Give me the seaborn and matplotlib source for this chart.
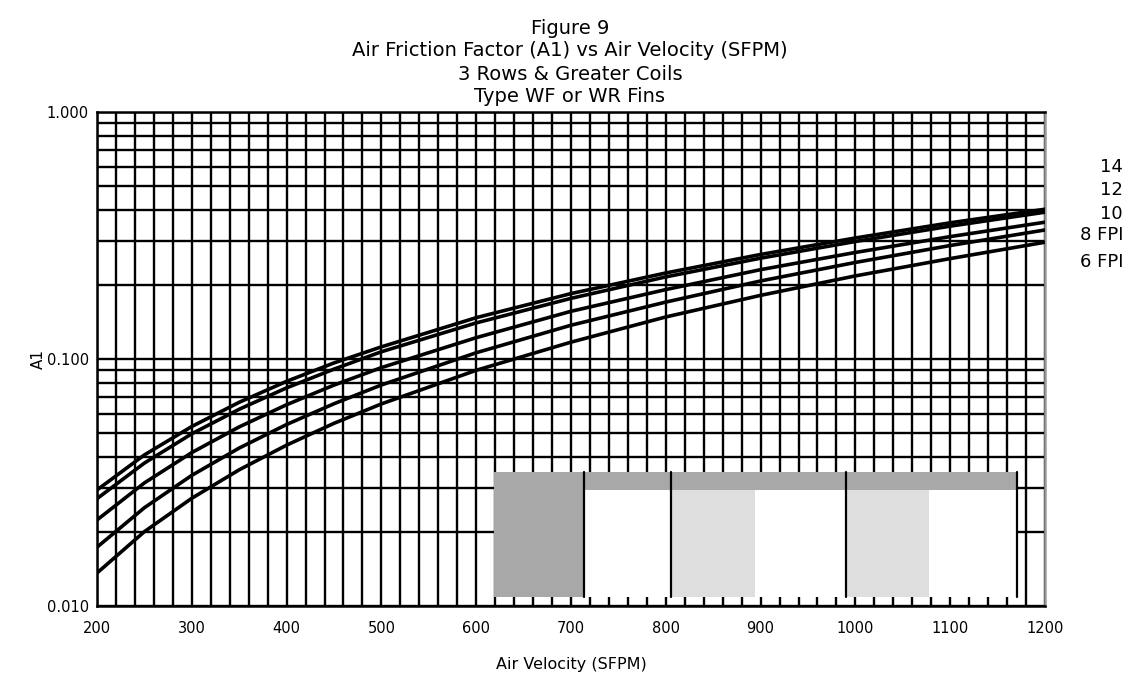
import numpy as np
import pandas as pd
import matplotlib
matplotlib.use("Agg")
import matplotlib.pyplot as plt
from matplotlib.patches import Rectangle
from matplotlib.ticker import FixedLocator, MultipleLocator, LogLocator, NullFormatter, FixedFormatter
import seaborn as sns

# ---------------- data ----------------
velocity = [200, 250, 300, 350, 400, 450, 500, 600, 700, 800, 900, 1000, 1100, 1200]
a1_14fpi = [0.0295, 0.0409, 0.0533, 0.0668, 0.0812, 0.0964, 0.112, 0.147, 0.184, 0.223, 0.265, 0.309, 0.356, 0.404]
a1_12fpi = [0.0272, 0.0379, 0.0498, 0.0626, 0.0764, 0.0910, 0.107, 0.140, 0.176, 0.215, 0.256, 0.299, 0.345, 0.393]
a1_10fpi = [0.0223, 0.0315, 0.0418, 0.0531, 0.0653, 0.0784, 0.0923, 0.122, 0.156, 0.191, 0.230, 0.270, 0.313, 0.358]
a1_8fpi = [0.0173, 0.0250, 0.0338, 0.0436, 0.0543, 0.0659, 0.0785, 0.106, 0.137, 0.170, 0.207, 0.246, 0.288, 0.333]
a1_6fpi = [0.0136, 0.0200, 0.0273, 0.0356, 0.0448, 0.0549, 0.0658, 0.0900, 0.117, 0.148, 0.181, 0.217, 0.255, 0.297]
series_labels = ["14", "12", "10", "8 FPI", "6 FPI"]

title_lines = ["Figure 9",
               "Air Friction Factor (A1) vs Air Velocity (SFPM)",
               "3 Rows & Greater Coils",
               "Type WF or WR Fins"]
x_label = "Air Velocity (SFPM)"
y_label = "A1"
x_ticks = [200, 300, 400, 500, 600, 700, 800, 900, 1000, 1100, 1200]
y_ticks = [0.01, 0.1, 1.0]
y_tick_labels = ["0.010", "0.100", "1.000"]

# ---------------- build long-form table ----------------
series_values = [a1_14fpi, a1_12fpi, a1_10fpi, a1_8fpi, a1_6fpi]
frames = []
for lab, vals in zip(series_labels, series_values):
    frames.append(pd.DataFrame({"velocity": velocity, "A1": vals, "fpi": lab}))
df = pd.concat(frames, ignore_index=True)

# ---------------- figure ----------------
sns.set_style("white")
plt.rcParams["font.family"] = ["DejaVu Sans"]
plt.rcParams["text.color"] = "black"
plt.rcParams["xtick.color"] = "black"
plt.rcParams["ytick.color"] = "black"

W, H = 1129, 681
fig = plt.figure(figsize=(W / 100, H / 100), dpi=100)
ax = fig.add_axes([97 / W, 1 - 606 / H, 948 / W, 494 / H])

sns.lineplot(data=df, x="velocity", y="A1", hue="fpi", hue_order=series_labels,
             palette=["black"] * len(series_labels), linewidth=2.6, legend=False,
             ax=ax, zorder=3)

ax.set_yscale("log")
ax.set_xlim(200, 1200)
ax.set_ylim(0.01, 1.0)

# grid
ax.xaxis.set_major_locator(FixedLocator(x_ticks))
ax.xaxis.set_minor_locator(MultipleLocator(20))
ax.yaxis.set_major_locator(FixedLocator(y_ticks))
ax.yaxis.set_major_formatter(FixedFormatter(y_tick_labels))
ax.yaxis.set_minor_locator(LogLocator(base=10, subs=np.arange(2, 10)))
ax.yaxis.set_minor_formatter(NullFormatter())
ax.set_axisbelow(True)
ax.grid(True, which="both", color="black", linewidth=1.7)

ax.tick_params(axis="x", which="major", direction="inout", length=8, width=1.5,
               color="black", labelcolor="black", labelsize=10.5, pad=7)
ax.tick_params(axis="y", which="major", direction="out", length=5, width=1.5,
               color="black", labelcolor="black", labelsize=10.5, pad=1)
ax.tick_params(which="minor", length=0)

for side in ["left", "bottom", "top"]:
    ax.spines[side].set_color("black")
    ax.spines[side].set_linewidth(1.8)
ax.spines["right"].set_color("#9a9a9a")
ax.spines["right"].set_linewidth(1.8)

ax.set_xlabel("")
ax.set_ylabel("")

# blank legend box (gray bands) sitting over the grid
box_y0, box_y1, band_y0 = 0.01087, 0.0349, 0.0295
ax.add_patch(Rectangle((619, box_y0), 1170 - 619, box_y1 - box_y0, facecolor="white",
                       edgecolor="none", zorder=1.5))
ax.add_patch(Rectangle((619, band_y0), 1170 - 619, box_y1 - band_y0, facecolor="#a8a8a8",
                       edgecolor="none", zorder=1.6))
ax.add_patch(Rectangle((619, box_y0), 714 - 619, box_y1 - box_y0, facecolor="#a8a8a8",
                       edgecolor="none", zorder=1.6))
for x0, x1 in [(805, 894), (990, 1078)]:
    ax.add_patch(Rectangle((x0, box_y0), x1 - x0, band_y0 - box_y0, facecolor="#dedede",
                           edgecolor="none", zorder=1.6))
for xv in [714, 805, 990, 1170]:
    ax.plot([xv, xv], [box_y0, box_y1], color="black", linewidth=1.6, zorder=1.7)

# text
for txt, yc in zip(title_lines, [28, 51, 75, 97]):
    fig.text(570 / W, 1 - yc / H, txt, ha="center", va="center", fontsize=14, color="black")

fig.text(571 / W, 1 - 665 / H, x_label, ha="center", va="center", fontsize=11.5, color="black")
fig.text(38 / W, 1 - 359 / H, y_label, ha="center", va="center", rotation=90,
         fontsize=11, color="black")

for lab, yc in zip(series_labels, [167, 190, 214, 235, 262]):
    fig.text(1123 / W, 1 - yc / H, lab, ha="right", va="center", fontsize=13, color="black")

fig.savefig("out.png", dpi=100)
